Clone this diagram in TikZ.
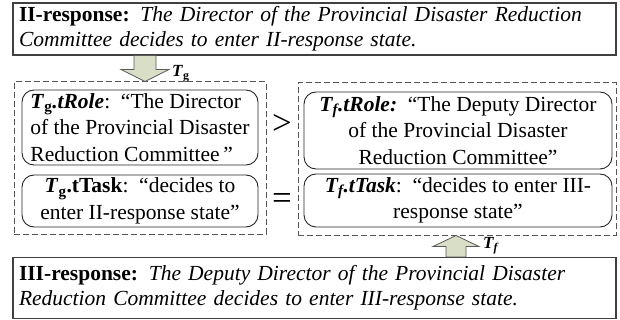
\documentclass[tikz,border=0pt]{standalone}
\usepackage{fontspec}
\setmainfont{Liberation Serif}
\usetikzlibrary{calc}
\definecolor{boxline}{HTML}{404040}
\definecolor{dashline}{HTML}{555555}
\definecolor{arrowfill}{HTML}{D9DEC6}
\definecolor{arrowline}{HTML}{5A5A5A}
\tikzset{
  x=1pt, y=-1pt,
  statebox/.style={draw=boxline, line width=1.2pt, rectangle, inner xsep=6pt, inner ysep=0pt,
    align=left, font=\fontsize{21.5}{25}\selectfont},
  groupbox/.style={draw=dashline, line width=1pt, dash pattern=on 6pt off 3pt, rectangle,
    inner sep=0pt},
  slotbox/.style={draw=black!85, line width=0.9pt, rounded corners=12pt, rectangle,
    inner xsep=4pt, inner ysep=0pt, font=\fontsize{21.5}{26.5}\selectfont},
  relsign/.style={font=\fontsize{35}{35}\selectfont, inner sep=0pt},
  blockarrow/.style={fill=arrowfill, draw=arrowline, line width=0.8pt},
  arrowlabel/.style={font=\fontsize{17}{17}\selectfont\bfseries, inner sep=0pt},
}
\begin{document}
\begin{tikzpicture}
\useasboundingbox (0,0) rectangle (620,320);

% level statements
\node[statebox, minimum width=603, minimum height=52, text width=591] (top) at (314.5,29)
  {\textbf{II-response:} \textit{The Director of the Provincial Disaster Reduction}\\
   \textit{Committee decides to enter II-response state.}};
\node[statebox, minimum width=603, minimum height=61, text width=591] (bottom) at (314.5,288)
  {\textbf{III-response:} \textit{The Deputy Director of the Provincial Disaster}\\
   \textit{Reduction Committee decides to enter III-response state.}};

% task groups
\node[groupbox, minimum width=252, minimum height=152] (lgrp) at (140,158) {};
\node[groupbox, minimum width=318, minimum height=152] (rgrp) at (457,159) {};

% role and task slots
\node[slotbox, minimum width=236, minimum height=75, align=left] (lrole) at (140,127.5)
  {\textbf{\textit{T}\textsubscript{g}\textit{.tRole}}:\ \ “The Director\\
   of the Provincial Disaster\\
   Reduction Committee\,”};
\node[slotbox, minimum width=236, minimum height=52, align=center] (ltask) at (140,201)
  {\textbf{\textit{T}\textsubscript{g}.tTask}:\ \ “decides to\\
   enter II-response state”};
\node[slotbox, minimum width=308, minimum height=77, align=center] (rrole) at (458,130.5)
  {\textbf{\textit{T\textsubscript{f}.tRole:}}\ \ “The Deputy Director\\
   of the Provincial Disaster\\
   Reduction Committee”};
\node[slotbox, minimum width=308, minimum height=53, align=center] (rtask) at (458,200.5)
  {\textbf{\textit{T\textsubscript{f}.tTask}}:\ \ “decides to enter III-\\
   response state”};

% comparison signs
\node[relsign] (gt) at ($(lgrp.east)!0.5!(rgrp.west) + (0,-34)$) {>};
\node[relsign] (eq) at ($(lgrp.east)!0.5!(rgrp.west) + (0,43)$) {=};

% block arrow from the II-response statement
\coordinate (gs) at (top.south -| 145,0);
\coordinate (ge) at (lgrp.north -| 145,0);
\draw[blockarrow] ($(gs)+(-11,0)$) -- ($(ge)+(-11,-12)$) -- ($(ge)+(-24,-12)$) -- (ge)
  -- ($(ge)+(24,-12)$) -- ($(ge)+(11,-12)$) -- ($(gs)+(11,0)$) -- cycle;
\node[arrowlabel, anchor=base west] (tg) at ($(ge)+(27,-5)$) {\textit{T}\textsubscript{g}};

% block arrow from the III-response statement
\coordinate (fs) at (bottom.north -| 456,0);
\coordinate (fe) at (rgrp.south -| 456,0);
\draw[blockarrow] ($(fs)+(-10,0)$) -- ($(fe)+(-10,11)$) -- ($(fe)+(-23,11)$) -- (fe)
  -- ($(fe)+(23,11)$) -- ($(fe)+(10,11)$) -- ($(fs)+(10,0)$) -- cycle;
\node[arrowlabel, anchor=base west] (tf) at ($(fe)+(27,13)$) {\textit{T\textsubscript{f}}};
\end{tikzpicture}
\end{document}
